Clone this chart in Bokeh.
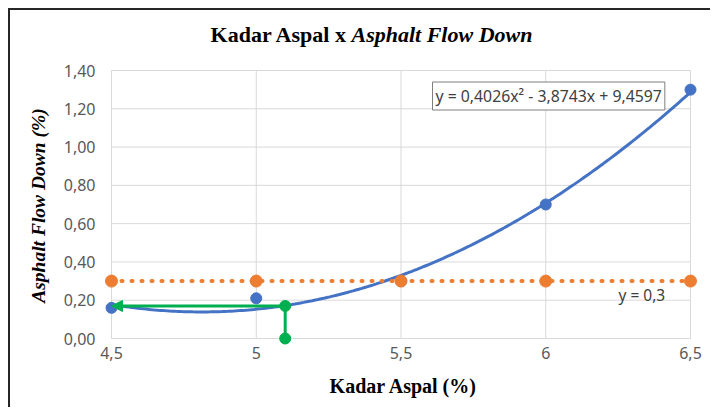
import numpy as np
from bokeh.plotting import figure
from bokeh.models import Label, Arrow, NormalHead, FixedTicker, Range1d
from bokeh.embed import file_html
from bokeh.resources import INLINE

# ---- data ----
x_ticks = [4.5, 5.0, 5.5, 6.0, 6.5]
x_tick_labels = ["4,5", "5", "5,5", "6", "6,5"]
y_ticks = [0.0, 0.2, 0.4, 0.6, 0.8, 1.0, 1.2, 1.4]
y_tick_labels = ["0,00", "0,20", "0,40", "0,60", "0,80", "1,00", "1,20", "1,40"]

kadar_aspal = [4.5, 5.0, 5.5, 6.0, 6.5]
flow_down = [0.16, 0.21, 0.30, 0.70, 1.30]
limit_y = [0.3, 0.3, 0.3, 0.3, 0.3]
trend_coef = [0.4026, -3.8743, 9.4597]
green_x = [4.5, 5.1, 5.1]
green_y = [0.17, 0.17, 0.0]

BLUE = "#4472c4"
ORANGE = "#ed7d31"
GREEN = "#00b050"
GRID = "#d9d9d9"
TXT = "#595959"

XPX = 2 / 579
YPX = 1.4 / 268
OFF = 10  # canvas offset inside the window (margin + border)
def dx(px):
    return 4.5 + (px - 111) * XPX
def dy(py):
    return (338 - py) * YPX

p = figure(width=702, height=399, output_backend="svg", toolbar_location=None,
           x_range=Range1d(4.5 - 8 * XPX, 6.5 + 8 * XPX),
           y_range=Range1d(-8 * YPX, 1.4 + 8 * YPX),
           min_border_left=93, min_border_right=14, min_border_top=52, min_border_bottom=63)
p.margin = (8, 0, 0, 8)
p.styles = {"border-left": "2px solid #262626", "border-top": "2px solid #262626"}
p.outline_line_color = None
p.xgrid.visible = False
p.ygrid.visible = False

# gridlines
p.segment(x0=x_ticks, x1=x_ticks, y0=[y_ticks[0]] * len(x_ticks), y1=[y_ticks[-1]] * len(x_ticks),
          line_color=GRID, line_width=1)
p.segment(x0=[x_ticks[0]] * len(y_ticks), x1=[x_ticks[-1]] * len(y_ticks), y0=y_ticks, y1=y_ticks,
          line_color=GRID, line_width=1)

# axes
p.xaxis.ticker = FixedTicker(ticks=x_ticks)
p.xaxis.major_label_overrides = {t: l for t, l in zip(x_ticks, x_tick_labels)}
p.yaxis.ticker = FixedTicker(ticks=y_ticks)
p.yaxis.major_label_overrides = {t: l for t, l in zip(y_ticks, y_tick_labels)}
for ax in (p.xaxis, p.yaxis):
    ax.axis_line_color = None
    ax.major_tick_line_color = None
    ax.minor_tick_line_color = None
    ax.major_tick_out = 0
    ax.major_tick_in = 0
    ax.major_label_text_font = "Noto Sans"
    ax.major_label_text_font_size = "16px"
    ax.major_label_text_color = TXT
p.xaxis.major_label_standoff = 0
p.yaxis.major_label_standoff = 8

# trendline
xs = np.linspace(kadar_aspal[0], kadar_aspal[-1], 200)
ys = np.polyval(trend_coef, xs)
p.line(xs, ys, line_color=BLUE, line_width=3)
p.scatter(kadar_aspal, flow_down, size=11, fill_color=BLUE, line_color=BLUE)

# limit line y = 0.3
p.line(kadar_aspal, limit_y, line_color=ORANGE, line_width=4, line_dash="1 9", line_cap="round")
p.scatter(kadar_aspal, limit_y, size=12, fill_color=ORANGE, line_color=ORANGE)

# green guide
p.line(green_x[1:], green_y[1:], line_color=GREEN, line_width=3)
p.add_layout(Arrow(end=NormalHead(size=11, fill_color=GREEN, line_color=GREEN),
                   x_start=green_x[1], y_start=green_y[1], x_end=green_x[0], y_end=green_y[0],
                   line_color=GREEN, line_width=3))
p.scatter(green_x[1:], green_y[1:], size=11, fill_color=GREEN, line_color=GREEN)

# texts outside the frame (canvas units, placed in side panels so they are not clipped)
def clabel(px, py, **kw):
    return Label(x=px - OFF, y=py - OFF, x_units="canvas", y_units="canvas", **kw)

p.add_layout(clabel(345, 32, text="Kadar Aspal x", text_align="right",
                    text_baseline="alphabetic", text_font="Liberation Serif",
                    text_font_size="22px", text_font_style="bold", text_color="#000000"), "above")
p.add_layout(clabel(349, 32, text="Asphalt Flow Down", text_align="left",
                    text_baseline="alphabetic", text_font="Liberation Serif",
                    text_font_size="22px", text_font_style="bold italic", text_color="#000000"), "above")
p.add_layout(clabel(401, 383, text="Kadar Aspal (%)", text_align="center",
                    text_baseline="alphabetic", text_font="Liberation Serif",
                    text_font_size="20px", text_font_style="bold", text_color="#000000"), "below")
p.add_layout(clabel(36, 203, text="Asphalt Flow Down (%)", angle=np.pi / 2,
                    text_align="center", text_baseline="alphabetic", text_font="Liberation Serif",
                    text_font_size="19.5px", text_font_style="bold italic", text_color="#000000"), "left")

# texts inside the frame
p.add_layout(Label(x=dx(432), y=dy(95.5), text="y = 0,4026x² - 3,8743x + 9,4597",
                   text_align="left", text_baseline="middle", text_font="Noto Sans",
                   text_font_size="15.8px", text_color="#404040", padding=3,
                   background_fill_color="white", border_line_color="#7f7f7f", border_line_width=1))
p.add_layout(Label(x=dx(618), y=dy(294), text="y = 0,3", text_align="left",
                   text_baseline="middle", text_font="Noto Sans", text_font_size="15.5px",
                   text_color="#404040"))

open("out.html", "w").write(file_html(p, INLINE))
